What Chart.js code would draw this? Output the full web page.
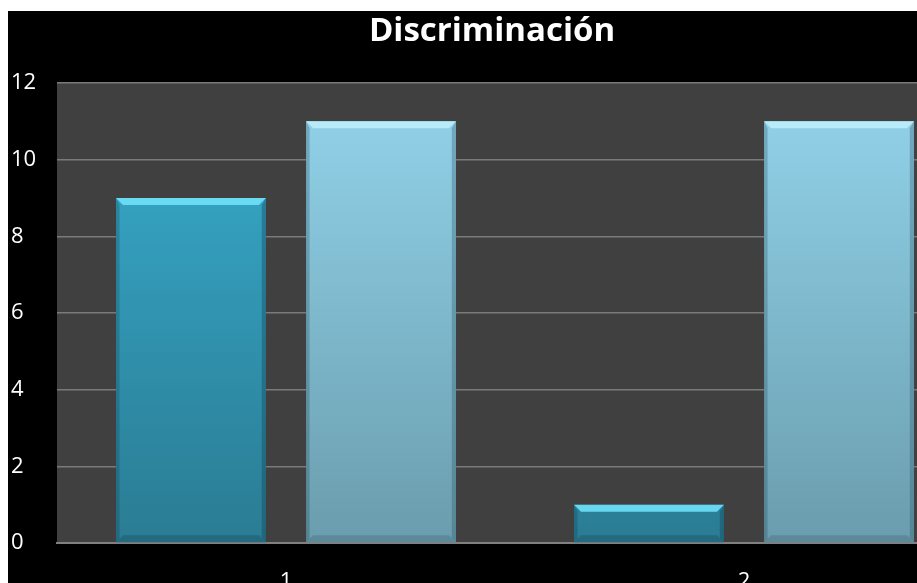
<!DOCTYPE html>
<html>
<head>
<meta charset="utf-8">
<script src="https://cdn.jsdelivr.net/npm/chart.js@4/dist/chart.umd.min.js"></script>
<style>
  html, body { margin: 0; padding: 0; background: #ffffff; overflow: hidden; }
  #wrap { position: absolute; left: 8px; top: 11px; width: 972px; height: 600px; }
  canvas { display: block; }
</style>
</head>
<body>
<div id="wrap"><canvas id="c" width="972" height="600"></canvas></div>
<script>
const categories = ['1', '2'];
const series1 = [9, 1];
const series2 = [11, 11];
const titleText = 'Discriminación';

const bgPlugin = {
  id: 'bg',
  beforeDraw(chart) {
    const {ctx, chartArea: a} = chart;
    ctx.save();
    ctx.fillStyle = '#000000';
    ctx.fillRect(0, 0, chart.width, chart.height);
    ctx.fillStyle = '#404040';
    ctx.fillRect(a.left, a.top, a.right - a.left, a.bottom - a.top);
    ctx.restore();
  }
};

function grad(ctx, area, top, bottom) {
  const g = ctx.createLinearGradient(0, area.top, 0, area.bottom);
  g.addColorStop(0, top);
  g.addColorStop(1, bottom);
  return g;
}

const bevelPlugin = {
  id: 'bevel',
  afterDatasetsDraw(chart) {
    const ctx = chart.ctx;
    const bevels = [
      {hi: 'rgba(110,225,248,0.9)', side: 'rgba(15,60,80,0.35)', bot: 'rgba(15,50,70,0.25)'},
      {hi: 'rgba(190,240,252,0.85)', side: 'rgba(40,80,95,0.3)', bot: 'rgba(40,70,85,0.22)'}
    ];
    chart.data.datasets.forEach((ds, di) => {
      const meta = chart.getDatasetMeta(di);
      meta.data.forEach(bar => {
        const b = bevels[di];
        const l = bar.x - bar.width / 2, r = bar.x + bar.width / 2;
        const t = bar.y, bt = bar.base;
        const d = Math.min(7, (bt - t) / 2);
        ctx.save();
        ctx.fillStyle = b.hi;
        ctx.beginPath();
        ctx.moveTo(l, t); ctx.lineTo(r, t); ctx.lineTo(r - d, t + d); ctx.lineTo(l + d, t + d); ctx.closePath();
        ctx.fill();
        ctx.fillStyle = b.side;
        ctx.beginPath();
        ctx.moveTo(r, t); ctx.lineTo(r, bt); ctx.lineTo(r - d * 0.6, bt - d * 0.6); ctx.lineTo(r - d * 0.6, t + d); ctx.closePath();
        ctx.fill();
        ctx.fillStyle = 'rgba(10,40,55,0.22)';
        ctx.beginPath();
        ctx.moveTo(l, t); ctx.lineTo(l + d * 0.5, t + d); ctx.lineTo(l + d * 0.5, bt - d * 0.5); ctx.lineTo(l, bt); ctx.closePath();
        ctx.fill();
        ctx.fillStyle = b.bot;
        ctx.beginPath();
        ctx.moveTo(l, bt); ctx.lineTo(l + d, bt - d); ctx.lineTo(r - d, bt - d); ctx.lineTo(r, bt); ctx.closePath();
        ctx.fill();
        ctx.restore();
      });
    });
  }
};

new Chart(document.getElementById('c'), {
  type: 'bar',
  data: {
    labels: categories,
    datasets: [
      {
        label: 'Serie 1',
        data: series1,
        backgroundColor: (c) => c.chart.chartArea ? grad(c.chart.ctx, c.chart.chartArea, '#38acce', '#2a7c93') : '#33a4c4',
        borderWidth: 0,
        barPercentage: 0.789,
        categoryPercentage: 0.83
      },
      {
        label: 'Serie 2',
        data: series2,
        backgroundColor: (c) => c.chart.chartArea ? grad(c.chart.ctx, c.chart.chartArea, '#93d4ec', '#6a9dad') : '#8ccfe6',
        borderWidth: 0,
        barPercentage: 0.789,
        categoryPercentage: 0.83
      }
    ]
  },
  options: {
    responsive: false,
    animation: false,
    devicePixelRatio: 1,
    layout: { padding: { left: 3, right: 7, top: 0, bottom: 0 } },
    plugins: {
      legend: { display: false },
      tooltip: { enabled: false },
      title: {
        display: true,
        text: titleText,
        color: '#ffffff',
        font: { family: 'Open Sans', size: 33, weight: 'bold', lineHeight: 1.0 },
        padding: { top: 4, bottom: 35 }
      }
    },
    scales: {
      x: {
        grid: { display: false, drawTicks: false },
        border: { display: true, color: '#808080', width: 2 },
        ticks: { color: '#ffffff', font: { family: 'Open Sans', size: 22 }, padding: 26 },
        afterFit(s) { s.height = 68; }
      },
      y: {
        min: 0, max: 12,
        ticks: { stepSize: 2, color: '#ffffff', font: { family: 'Open Sans', size: 22 }, crossAlign: 'far' },
        grid: { color: '#7a7a7a', lineWidth: 1.5, drawTicks: false },
        border: { display: false },
        afterFit(s) { s.width = 46; }
      }
    }
  },
  plugins: [bgPlugin, bevelPlugin]
});
</script>
</body>
</html>
